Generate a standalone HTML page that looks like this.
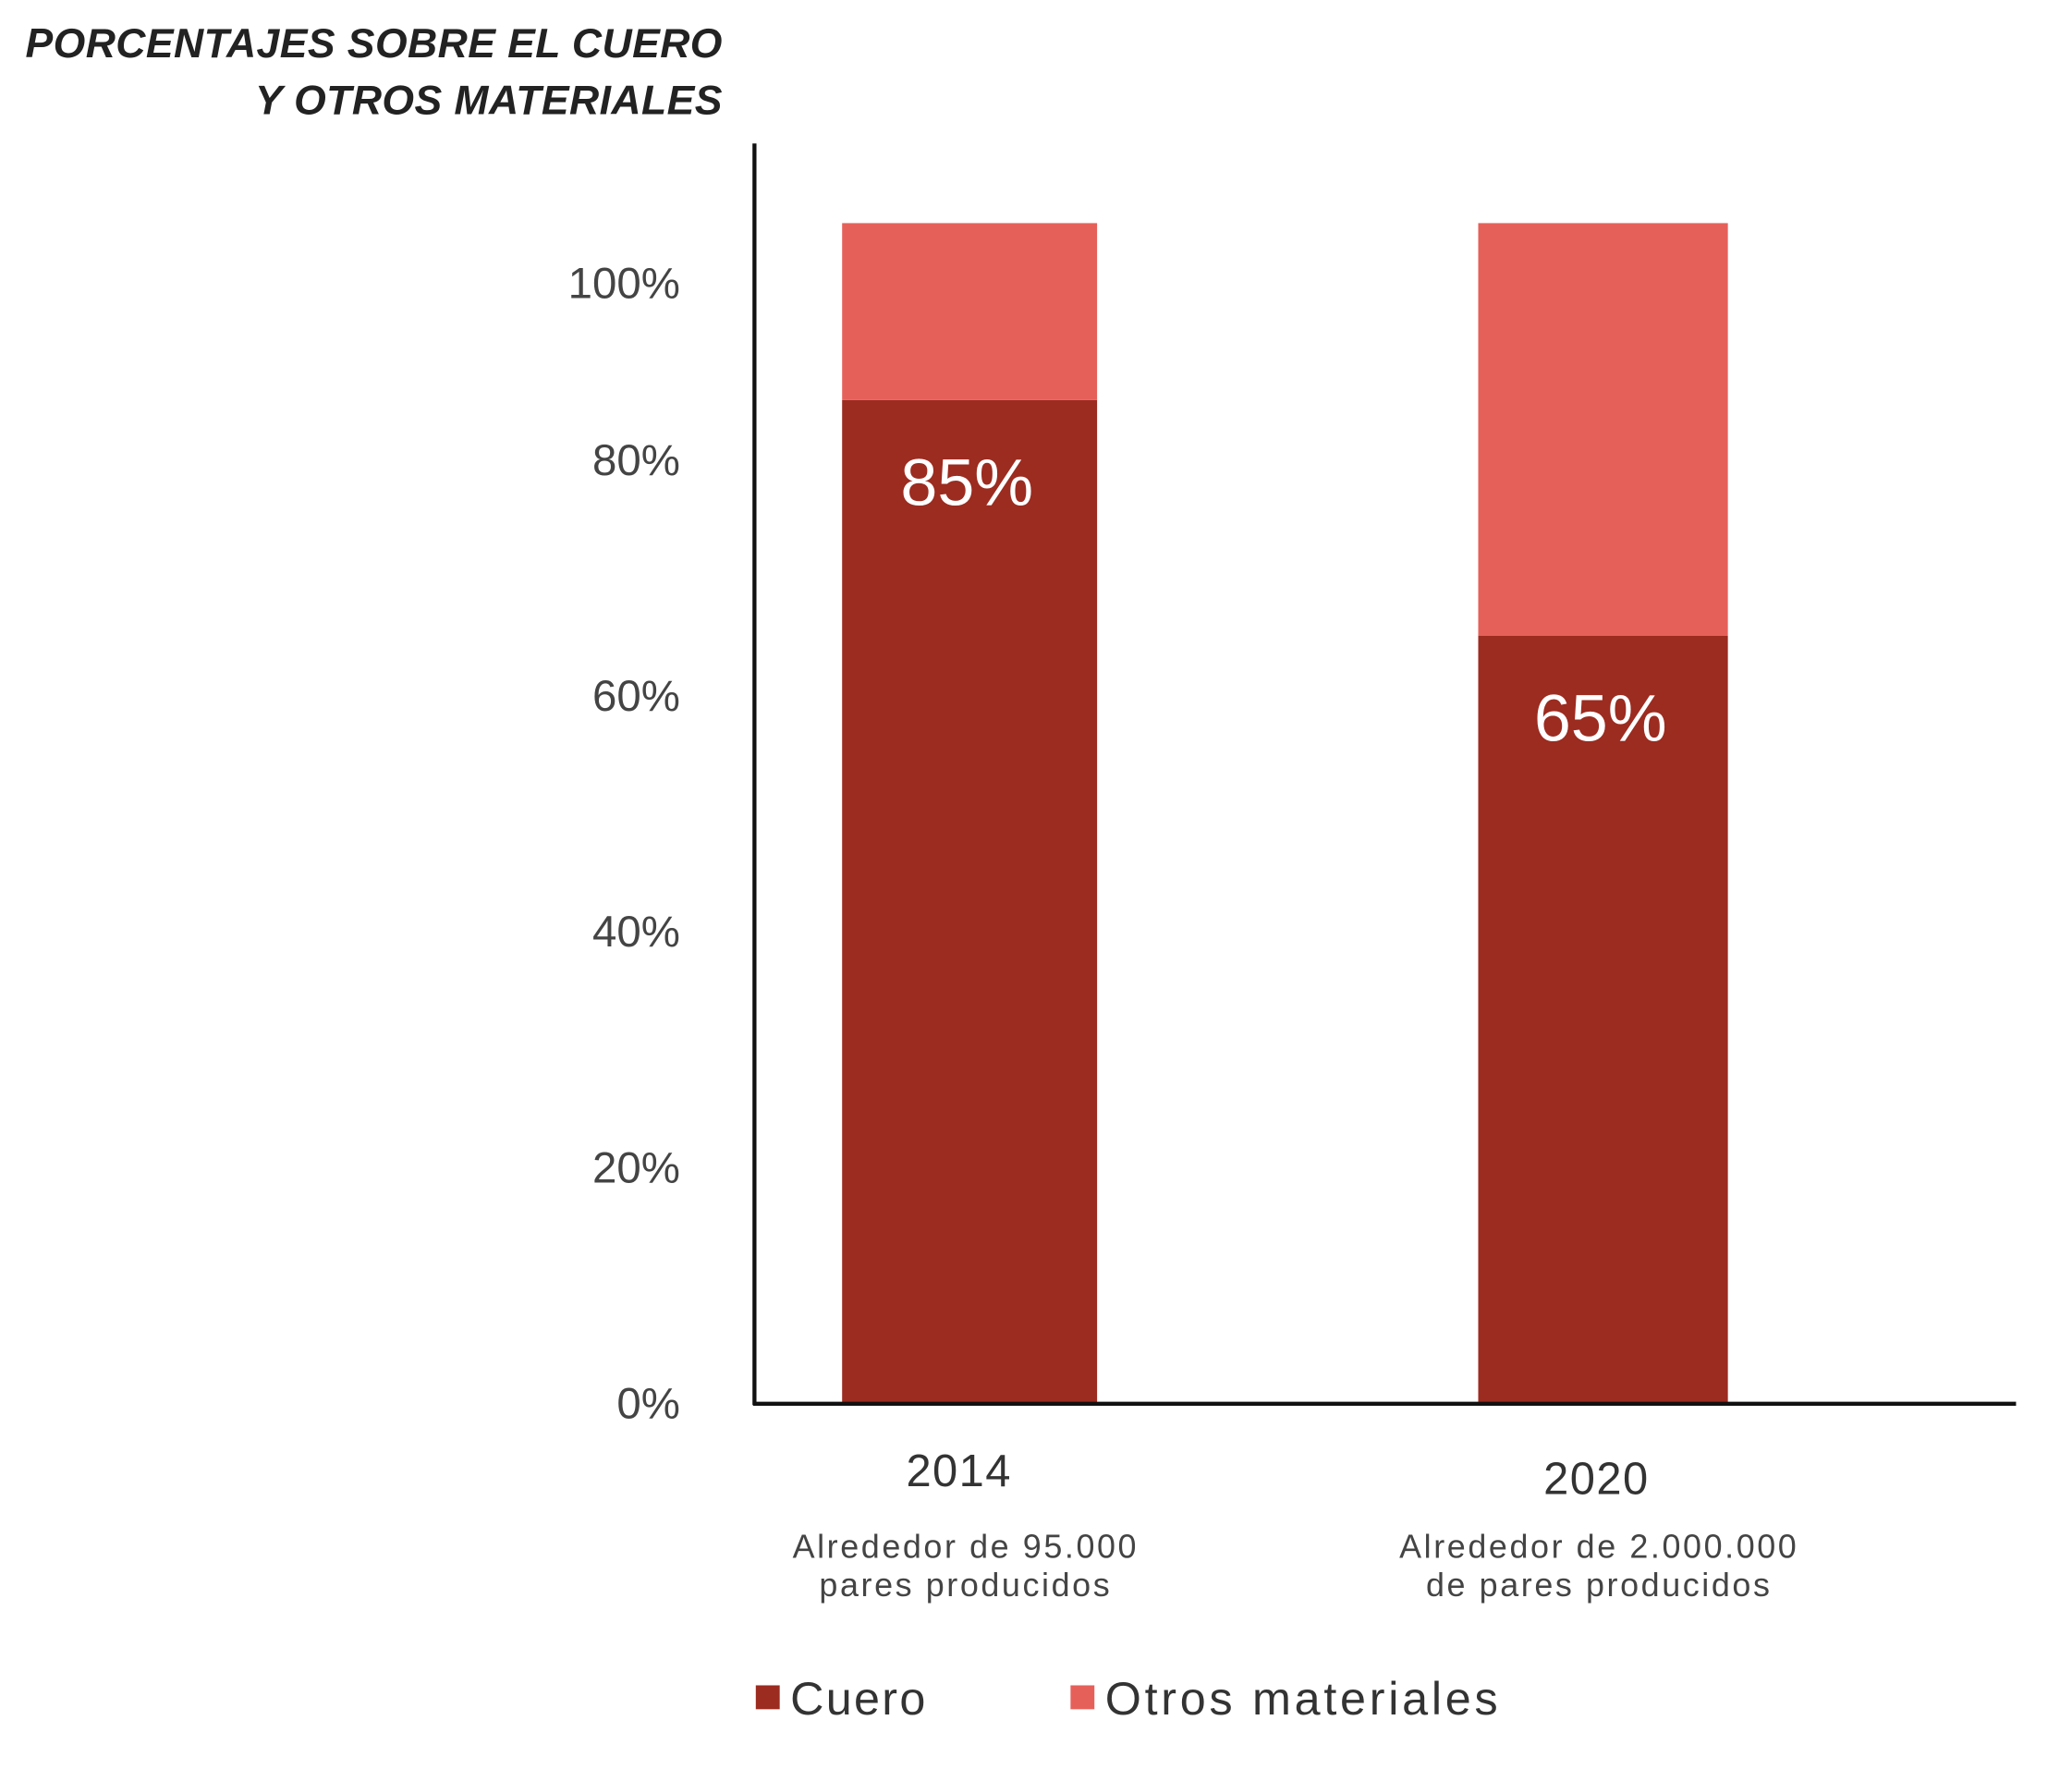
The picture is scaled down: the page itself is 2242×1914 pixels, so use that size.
<!DOCTYPE html>
<html><head><meta charset="utf-8">
<style>
html,body{margin:0;padding:0;background:#fff;}
svg{display:block;font-family:"Liberation Sans",sans-serif;}
</style></head>
<body>
<svg id="chart" width="2242" height="1914" viewBox="0 0 1560 1332" xmlns="http://www.w3.org/2000/svg">
<rect width="1560" height="1332" fill="#fff"/>
<g font-weight="bold" font-style="italic" font-size="31" fill="#222" text-anchor="end" letter-spacing="0.3">
<text x="544" y="43">PORCENTAJES SOBRE EL CUERO</text>
<text x="544" y="86">Y OTROS MATERIALES</text>
</g>
<g id="plot"></g>
<line x1="568" y1="108" x2="568" y2="1058" stroke="#111" stroke-width="3"/>
<line x1="567" y1="1057" x2="1518" y2="1057" stroke="#111" stroke-width="3"/>
<g>
<rect x="569" y="1269" width="18" height="18" fill="#9c2b20"/>
<text x="595" y="1291" font-size="35" fill="#333" letter-spacing="1.6">Cuero</text>
<rect x="806" y="1269" width="18" height="18" fill="#e6605a"/>
<text x="832" y="1291" font-size="35" fill="#333" letter-spacing="2.6">Otros materiales</text>
</g>
</svg>
<script>
const categories = ["2014", "2020"];
const cueroValues = [85, 65];
const otrosValues = [15, 35];
const tickLabels = ["0%", "20%", "40%", "60%", "80%", "100%"];
const tickValues = [0, 20, 40, 60, 80, 95];
const subLine1 = ["Alrededor de  95.000", "Alrededor de 2.000.000"];
const subLine2 = ["pares producidos", "de pares producidos"];

const NS = "http://www.w3.org/2000/svg";
const plot = document.getElementById("plot");
const y0 = 1056, pxPerUnit = 8.88;
function yScale(v){ return y0 - v * pxPerUnit; }
const barX = [634, 1113], barW = [192, 188];
function xCenter(i){ return barX[i] + barW[i] / 2; }
function mk(tag, attrs, text){
  const el = document.createElementNS(NS, tag);
  for (const k in attrs) el.setAttribute(k, attrs[k]);
  if (text !== undefined) el.textContent = text;
  plot.appendChild(el);
  return el;
}
tickLabels.forEach((t, i) => {
  const el = mk("text", {x: 512, y: yScale(tickValues[i]) + 12, "font-size": 33, fill: "#444", "text-anchor": "end"}, t);
  
  
});
categories.forEach((c, i) => {
  const cTop = yScale(cueroValues[i]);
  const oTop = yScale(cueroValues[i] + otrosValues[i]);
  const b1 = mk("rect", {x: barX[i], y: cTop, width: barW[i], height: y0 - cTop, fill: "#9c2b20"});
  
  
  const b2 = mk("rect", {x: barX[i], y: oTop, width: barW[i], height: cTop - oTop, fill: "#e6605a"});
  
  
  const v = mk("text", {x: xCenter(i) - 2, y: cTop + 79, "font-size": 50, fill: "#fff", "text-anchor": "middle"}, cueroValues[i] + "%");
  
  
  const cl = mk("text", {x: xCenter(i) - 8 + i * 3, y: 1119 + i * 6, "font-size": 34, fill: "#333", "text-anchor": "middle", "letter-spacing": 1}, c);
  
  
  const s1 = mk("text", {x: xCenter(i) - 3, y: 1173, "font-size": 25, fill: "#444", "text-anchor": "middle", "letter-spacing": 1.8}, subLine1[i]);
  
  
  const s2 = mk("text", {x: xCenter(i) - 3, y: 1202, "font-size": 25, fill: "#444", "text-anchor": "middle", "letter-spacing": 1.8}, subLine2[i]);
  
  
});
</script>
</body></html>
